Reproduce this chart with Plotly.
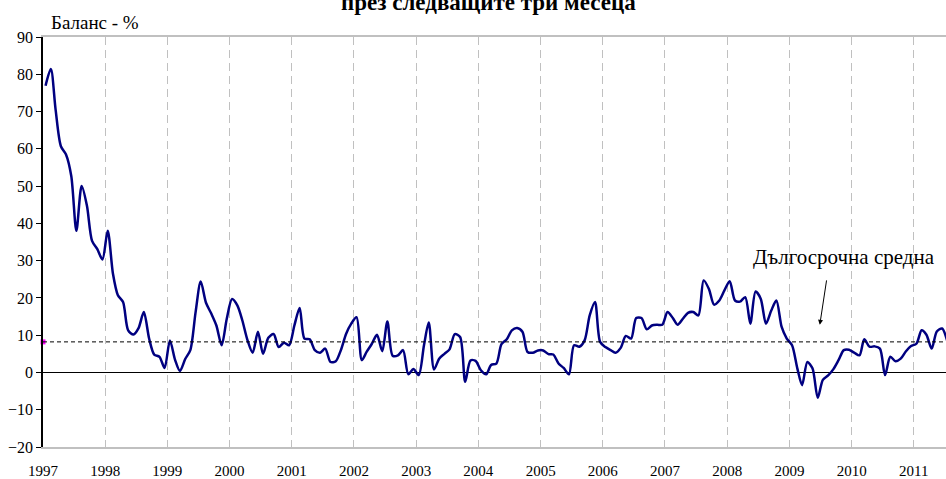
import pandas as pd
import plotly.graph_objects as go

# monthly balance, Jan 1997 onward
balance = [
    76.9, 81.4, 70.5, 60.7, 58.5, 52.7, 38.0, 50.0, 44.7, 35.3, 33.1, 30.3,   # 1997
    38.0, 26.4, 20.8, 18.9, 11.3, 10.2, 11.9, 16.2, 9.1, 4.8, 4.2, 1.2,       # 1998
    8.6, 3.3, 0.4, 3.6, 6.0, 16.2, 24.4, 18.7, 15.8, 12.6, 7.3, 14.4,         # 1999
    19.7, 18.0, 14.0, 8.6, 5.3, 10.9, 5.0, 9.3, 10.3, 6.8, 8.0, 7.3,          # 2000
    12.6, 17.3, 9.1, 8.9, 6.0, 5.3, 6.4, 2.8, 3.0, 6.0, 10.4, 13.1,           # 2001
    14.8, 3.3, 5.5, 7.7, 10.1, 5.7, 13.7, 4.5, 4.6, 6.0, -0.5, 0.9,           # 2002
    -0.7, 7.3, 13.4, 0.8, 3.7, 5.0, 6.2, 10.3, 9.5, -2.5, 3.2, 3.1,           # 2003
    0.6, -0.5, 2.0, 2.4, 7.6, 8.9, 11.3, 11.9, 10.9, 5.5, 5.3, 5.9,           # 2004
    5.9, 4.9, 4.8, 2.4, 1.2, -0.5, 7.3, 6.9, 8.6, 15.3, 18.9, 8.2,            # 2005
    6.8, 6.0, 5.3, 6.6, 9.8, 9.1, 14.6, 14.6, 11.6, 12.6, 12.8, 12.8,         # 2006
    16.2, 14.6, 12.8, 14.4, 16.0, 16.2, 15.3, 24.7, 22.4, 18.2, 19.3, 22.0,   # 2007
    24.5, 19.3, 19.0, 20.2, 13.1, 21.7, 19.8, 13.1, 16.6, 19.3, 12.2, 9.1,    # 2008
    7.3, 1.1, -3.4, 2.8, 1.1, -6.8, -2.0, -0.8, 0.9, 3.3, 6.0, 6.1,           # 2009
    5.3, 4.6, 8.9, 6.9, 7.0, 6.4, -0.7, 4.2, 3.0, 3.7, 5.7, 7.1,              # 2010
    7.7, 11.3, 10.1, 6.4, 11.0, 11.8, 8.5,                                    # 2011
]
long_term_avg = 8.2
years = list(range(1997, 2012))

months = pd.date_range("1997-01-01", periods=len(balance), freq="MS") + pd.Timedelta(days=15)

FONT = "Liberation Serif, Times New Roman, serif"

fig = go.Figure()

fig.add_trace(go.Scatter(x=months, y=balance, mode="lines",
                         line=dict(color="#000080", width=2.5, shape="spline", smoothing=0.8),
                         hoverinfo="x+y", showlegend=False))

# magenta marker at the start of the average line
fig.add_trace(go.Scatter(x=[pd.Timestamp("1997-01-01")], y=[long_term_avg], mode="markers",
                         marker=dict(color="#ff00ff", size=5, symbol="square"),
                         cliponaxis=False, showlegend=False, hoverinfo="skip"))

# long-term average
fig.add_shape(type="line", xref="paper", x0=0, x1=1, yref="y", y0=long_term_avg, y1=long_term_avg,
              line=dict(color="black", width=1, dash="4px,3px"))

fig.update_layout(
    width=946, height=479,
    margin=dict(l=43, r=0, t=37, b=30),
    paper_bgcolor="white", plot_bgcolor="white",
    font=dict(family=FONT, size=15, color="black"),
    showlegend=False,
)

fig.update_xaxes(
    range=[pd.Timestamp("1997-01-01"), pd.Timestamp("2011-07-09")],
    tickvals=[pd.Timestamp(f"{y}-01-01") for y in years],
    ticktext=[str(y) for y in years],
    showgrid=True, gridcolor="#c0c0c0", gridwidth=1, griddash="8px,5px",
    showline=True, linecolor="#c0c0c0", linewidth=2, mirror=True,
    ticks="", tickfont=dict(size=15), ticklabelstandoff=9,
    zeroline=False,
)

fig.update_yaxes(
    range=[-20, 90], dtick=10,
    showgrid=False,
    showline=True, linecolor="black", linewidth=1.5,
    ticks="outside", ticklen=5, tickcolor="black", tickwidth=1,
    tickfont=dict(size=16),
    zeroline=True, zerolinecolor="black", zerolinewidth=1,
)

fig.add_annotation(text="<b>през следващите три месеца</b>", xref="paper", yref="paper",
                   x=0.493, y=1.084, xanchor="center", yanchor="middle", showarrow=False,
                   font=dict(family=FONT, size=23))
fig.add_annotation(text="Баланс - %", xref="paper", yref="paper",
                   x=0.007, y=1.036, xanchor="left", yanchor="middle", showarrow=False,
                   font=dict(family=FONT, size=19))
fig.add_annotation(text="Дългосрочна средна", x=pd.Timestamp("2009-11-15"), y=31.0,
                   xanchor="center", yanchor="middle", showarrow=False,
                   font=dict(family=FONT, size=21))
fig.add_annotation(text="", x=pd.Timestamp("2009-06-28"), y=12.8,
                   ax=pd.Timestamp("2009-08-08"), ay=25.1, axref="x", ayref="y",
                   showarrow=True, arrowhead=2, arrowsize=1, arrowwidth=1, arrowcolor="black")

# drop the default page margin so the figure sits at the window corner
fig.write_html("out.html", config={"displayModeBar": False},
               post_script="document.body.style.margin='0';document.body.style.overflow='hidden';")
